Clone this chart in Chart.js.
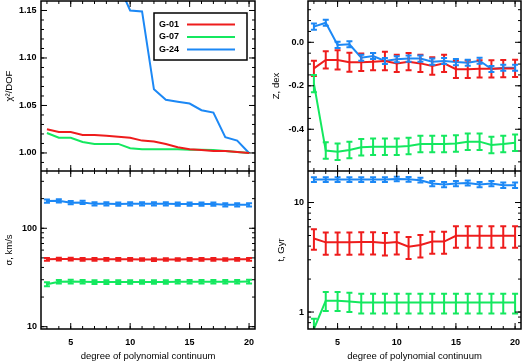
<!DOCTYPE html>
<html>
<head>
<meta charset="utf-8">
<script src="https://cdn.jsdelivr.net/npm/chart.js@4.4.1/dist/chart.umd.min.js"></script>
<style>
  body { margin: 0; background: #fff; }
  #fig { position: relative; width: 523px; height: 363px; }
  canvas { position: absolute; }
</style>
</head>
<body>
<div id="fig">
  <canvas id="chi2" width="262" height="171" style="left:0;top:0"></canvas>
  <canvas id="sigma" width="262" height="192" style="left:0;top:171px"></canvas>
  <canvas id="metal" width="261" height="171" style="left:262px;top:0"></canvas>
  <canvas id="age" width="261" height="192" style="left:262px;top:171px"></canvas>
</div>
<script>
// degree of polynomial continuum
const degrees = [3, 4, 5, 6, 7, 8, 9, 10, 11, 12, 13, 14, 15, 16, 17, 18, 19, 20];
const seriesNames = ['G-01', 'G-07', 'G-24'];

// chi^2 / DOF
const chi2G01 = [1.025, 1.022, 1.022, 1.019, 1.019, 1.018, 1.017, 1.016, 1.013, 1.012, 1.0095, 1.006, 1.004, 1.003, 1.002, 1.002, 1.001, 1.000];
const chi2G07 = [1.021, 1.016, 1.016, 1.0115, 1.0095, 1.0095, 1.0095, 1.005, 1.004, 1.004, 1.004, 1.004, 1.0035, 1.0035, 1.003, 1.002, 1.001, 1.000];
const chi2G24 = [1.36, 1.32, 1.29, 1.26, 1.23, 1.21, 1.178, 1.150, 1.149, 1.067, 1.056, 1.054, 1.052, 1.045, 1.0425, 1.0166, 1.013, 1.000];

// velocity dispersion, km/s
const sigG01 = [48.4, 48.6, 48.6, 48.4, 48.4, 48.4, 48.4, 48.3, 48.2, 48.1, 48.2, 48.2, 48.3, 48.3, 48.3, 48.2, 48.3, 48.4];
const sigG01Err = [1.5, 1.5, 1.5, 1.5, 1.5, 1.5, 1.5, 1.5, 1.5, 1.5, 1.5, 1.5, 1.5, 1.5, 1.5, 1.5, 1.5, 1.5];
const sigG07 = [27.0, 28.6, 28.7, 28.6, 28.4, 28.4, 28.4, 28.5, 28.5, 28.5, 28.5, 28.6, 28.6, 28.6, 28.6, 28.6, 28.6, 28.7];
const sigG07Err = [1.2, 1.2, 1.2, 1.2, 1.2, 1.2, 1.2, 1.2, 1.2, 1.2, 1.2, 1.2, 1.2, 1.2, 1.2, 1.2, 1.2, 1.2];
const sigG24 = [189, 190, 182, 183, 177, 177, 176, 177, 177, 177, 177, 176, 176, 176, 176, 173, 173, 173];
const sigG24Err = [7, 7, 7, 7, 7, 7, 7, 7, 7, 7, 7, 7, 7, 7, 7, 7, 7, 7];

// metallicity, dex
const zG01 = [-0.120, -0.081, -0.081, -0.092, -0.092, -0.089, -0.086, -0.097, -0.089, -0.097, -0.109, -0.097, -0.124, -0.124, -0.122, -0.122, -0.121, -0.120];
const zG01Err = [0.035, 0.04, 0.044, 0.044, 0.04, 0.04, 0.042, 0.04, 0.04, 0.04, 0.04, 0.04, 0.04, 0.04, 0.04, 0.04, 0.04, 0.04];
const zG07 = [-0.19, -0.498, -0.503, -0.495, -0.483, -0.480, -0.480, -0.480, -0.477, -0.468, -0.468, -0.468, -0.465, -0.457, -0.457, -0.472, -0.468, -0.462];
const zG07Err = [0.04, 0.038, 0.038, 0.038, 0.038, 0.038, 0.038, 0.038, 0.038, 0.038, 0.038, 0.038, 0.038, 0.038, 0.038, 0.038, 0.038, 0.038];
const zG24 = [0.072, 0.090, -0.012, -0.009, -0.071, -0.063, -0.086, -0.078, -0.075, -0.075, -0.089, -0.086, -0.091, -0.094, -0.085, -0.123, -0.117, -0.117];
const zG24Err = [0.014, 0.014, 0.014, 0.014, 0.014, 0.014, 0.014, 0.014, 0.014, 0.014, 0.014, 0.014, 0.014, 0.014, 0.014, 0.014, 0.014, 0.014];

// age, Gyr
const tG01 = [4.7, 4.33, 4.33, 4.33, 4.35, 4.35, 4.28, 4.36, 3.95, 4.1, 4.4, 4.4, 4.97, 4.97, 4.97, 4.97, 4.97, 4.97];
const tG01Err = [1.0, 1.0, 1.0, 1.0, 1.0, 1.0, 1.0, 1.0, 0.9, 0.95, 1.0, 1.0, 1.1, 1.1, 1.1, 1.1, 1.1, 1.1];
const tG07 = [0.70, 1.27, 1.27, 1.25, 1.22, 1.22, 1.22, 1.22, 1.22, 1.22, 1.22, 1.22, 1.22, 1.22, 1.22, 1.22, 1.22, 1.22];
const tG07Err = [0.17, 0.25, 0.25, 0.25, 0.25, 0.25, 0.25, 0.25, 0.25, 0.25, 0.25, 0.25, 0.25, 0.25, 0.25, 0.25, 0.25, 0.25];
const tG24 = [16.2, 16.2, 16.2, 16.2, 16.2, 16.2, 16.2, 16.4, 16.3, 16.0, 14.9, 14.6, 14.9, 15.1, 14.6, 14.9, 14.4, 14.4];
const tG24Err = [0.8, 0.8, 0.8, 0.8, 0.8, 0.8, 0.8, 0.8, 0.8, 0.8, 0.8, 0.8, 0.8, 0.8, 0.8, 0.8, 0.8, 0.8];

// tick labels
const xTicks = [5, 10, 15, 20];
const chi2Ticks = [1.00, 1.05, 1.10, 1.15];
const sigTicks = [10, 100];
const zTicks = [-0.4, -0.2, 0.0];
const tTicks = [1, 10];

const colors = ['rgb(238,28,28)', 'rgb(20,232,95)', 'rgb(28,136,245)'];
const FAMILY = '"Liberation Sans", Arial, sans-serif';
const tickFont = { family: FAMILY, size: 9, weight: 'bold' };
const titleFont = { family: FAMILY, size: 9.5 };

const pts = ys => degrees.map((d, i) => ({ x: d, y: ys[i] }));

function linearMinor(lo, hi, step) {
  const out = [];
  for (let v = Math.ceil(lo / step) * step; v <= hi; v += step) out.push(+v.toFixed(4));
  return out;
}
function logMinor(lo, hi) {
  const out = [];
  for (let e = Math.floor(Math.log10(lo)); e <= Math.ceil(Math.log10(hi)); e++)
    for (let m = 1; m < 10; m++) {
      const v = m * Math.pow(10, e);
      if (v >= lo && v <= hi) out.push(v);
    }
  return out;
}

// frame with inward ticks on all four sides
const framePlugin = {
  id: 'frame',
  afterDraw(chart, args, o) {
    const { ctx, chartArea: a, scales: { x, y } } = chart;
    ctx.save();
    ctx.strokeStyle = '#000';
    ctx.lineWidth = 1;
    ctx.beginPath();
    const xt = (vals, len) => vals.forEach(v => {
      const px = x.getPixelForValue(v);
      ctx.moveTo(px, a.bottom); ctx.lineTo(px, a.bottom - len);
      ctx.moveTo(px, a.top); ctx.lineTo(px, a.top + len);
    });
    const yt = (vals, len) => vals.forEach(v => {
      const py = y.getPixelForValue(v);
      if (py < a.top - 0.5 || py > a.bottom + 0.5) return;
      ctx.moveTo(a.left, py); ctx.lineTo(a.left + len, py);
      ctx.moveTo(a.right, py); ctx.lineTo(a.right - len, py);
    });
    xt(o.xMinor, 3); xt(o.xMajor, 6);
    yt(o.yMinor, 3); yt(o.yMajor, 6);
    ctx.stroke();
    ctx.lineWidth = 1.5;
    ctx.strokeRect(a.left, a.top, a.right - a.left, a.bottom - a.top);
    ctx.restore();
  }
};

// vertical error bars with caps
const errorBarPlugin = {
  id: 'errorBars',
  afterDatasetsDraw(chart) {
    const { ctx, chartArea: a, scales: { x, y } } = chart;
    ctx.save();
    ctx.beginPath();
    ctx.rect(a.left, a.top, a.right - a.left, a.bottom - a.top);
    ctx.clip();
    chart.data.datasets.forEach(ds => {
      if (!ds.errors) return;
      ctx.strokeStyle = ds.borderColor;
      ctx.lineWidth = 2;
      ctx.beginPath();
      ds.data.forEach((p, i) => {
        const px = x.getPixelForValue(p.x);
        const lo = y.getPixelForValue(p.y - ds.errors[i]);
        const hi = y.getPixelForValue(p.y + ds.errors[i]);
        ctx.moveTo(px, lo); ctx.lineTo(px, hi);
        ctx.moveTo(px - 3, lo); ctx.lineTo(px + 3, lo);
        ctx.moveTo(px - 3, hi); ctx.lineTo(px + 3, hi);
      });
      ctx.stroke();
    });
    ctx.restore();
  }
};

// boxed legend: name first, line sample after it
const legendPlugin = {
  id: 'boxLegend',
  afterDraw(chart) {
    const { ctx, chartArea: a } = chart;
    const x0 = a.right - 101, y0 = a.top + 12;
    ctx.save();
    ctx.lineWidth = 1.5;
    ctx.strokeStyle = '#000';
    ctx.strokeRect(x0, y0, 93, 47);
    ctx.font = 'bold 9px ' + FAMILY;
    ctx.textBaseline = 'middle';
    ctx.fillStyle = '#000';
    chart.data.datasets.forEach((ds, i) => {
      const ly = y0 + 11.5 + i * 12.5;
      ctx.fillText(ds.label, x0 + 5, ly);
      ctx.strokeStyle = ds.borderColor;
      ctx.lineWidth = 2;
      ctx.beginPath();
      ctx.moveTo(x0 + 33, ly); ctx.lineTo(x0 + 81, ly);
      ctx.stroke();
    });
    ctx.restore();
  }
};

function makeSets(values, errors) {
  return values.map((v, i) => ({
    label: seriesNames[i],
    data: pts(v),
    errors: errors ? errors[i] : null,
    borderColor: colors[i],
    backgroundColor: colors[i],
    borderWidth: 2,
    pointRadius: 0,
    tension: 0
  }));
}

function panel(id, p) {
  const isLog = p.yType === 'logarithmic';
  return new Chart(document.getElementById(id), {
    type: 'line',
    data: { datasets: p.datasets },
    options: {
      responsive: false,
      animation: false,
      devicePixelRatio: 1,
      layout: { padding: { top: p.top, right: p.right, bottom: 0, left: 0 } },
      plugins: {
        legend: { display: false },
        tooltip: { enabled: false },
        frame: {
          xMajor: xTicks, xMinor: linearMinor(3, 20, 1),
          yMajor: p.yTicks, yMinor: isLog ? logMinor(p.yMin, p.yMax) : linearMinor(p.yMin, p.yMax, p.yMinorStep)
        }
      },
      scales: {
        x: {
          type: 'linear', min: 2.5, max: 20.5,
          grid: { display: false, drawTicks: false }, border: { display: false },
          ticks: { display: p.xLabels, font: tickFont, color: '#000', padding: 8, maxRotation: 0 },
          title: { display: p.xLabels, text: 'degree of polynomial continuum', font: titleFont, color: '#000', padding: { top: 0, bottom: 1 } },
          afterBuildTicks: s => { s.ticks = xTicks.map(v => ({ value: v })); },
          afterFit: s => { s.height = p.xHeight; s.paddingLeft = 0; s.paddingRight = 0; }
        },
        y: {
          type: p.yType, min: p.yMin, max: p.yMax,
          grid: { display: false, drawTicks: false }, border: { display: false },
          ticks: { font: tickFont, color: '#000', padding: p.labelPad, callback: p.fmt },
          title: { display: true, text: p.yTitle, font: titleFont, color: '#000', padding: { top: p.titlePad, bottom: 0 } },
          afterBuildTicks: s => { s.ticks = p.yTicks.map(v => ({ value: v })); },
          afterFit: s => { s.width = p.yWidth; s.paddingTop = 0; s.paddingBottom = 0; }
        }
      }
    },
    plugins: p.plugins
  });
}

panel('chi2', {
  datasets: makeSets([chi2G01, chi2G07, chi2G24], null),
  yType: 'linear', yMin: 0.981, yMax: 1.160, yTicks: chi2Ticks, yMinorStep: 0.01,
  fmt: v => v.toFixed(2), yTitle: 'χ²/DOF',
  yWidth: 41, labelPad: 4.5, titlePad: 3.5, top: 1, right: 7, xLabels: false, xHeight: 0,
  plugins: [framePlugin, legendPlugin]
});

panel('sigma', {
  datasets: makeSets([sigG01, sigG07, sigG24], [sigG01Err, sigG07Err, sigG24Err]),
  yType: 'logarithmic', yMin: 9.47, yMax: 382, yTicks: sigTicks,
  fmt: v => String(v), yTitle: 'σ, km/s',
  yWidth: 41, labelPad: 4, titlePad: 4, top: 0, right: 7, xLabels: true, xHeight: 34,
  plugins: [framePlugin, errorBarPlugin]
});

panel('metal', {
  datasets: makeSets([zG01, zG07, zG24], [zG01Err, zG07Err, zG24Err]),
  yType: 'linear', yMin: -0.592, yMax: 0.19, yTicks: zTicks, yMinorStep: 0.05,
  fmt: v => v.toFixed(1), yTitle: 'Z, dex',
  yWidth: 46, labelPad: 4, titlePad: 9, top: 1, right: 2, xLabels: false, xHeight: 0,
  plugins: [framePlugin, errorBarPlugin]
});

panel('age', {
  datasets: makeSets([tG01, tG07, tG24], [tG01Err, tG07Err, tG24Err]),
  yType: 'logarithmic', yMin: 0.708, yMax: 19.4, yTicks: tTicks,
  fmt: v => String(v), yTitle: 't, Gyr',
  yWidth: 46, labelPad: 4, titlePad: 14, top: 0, right: 2, xLabels: true, xHeight: 34,
  plugins: [framePlugin, errorBarPlugin]
});
</script>
</body>
</html>
